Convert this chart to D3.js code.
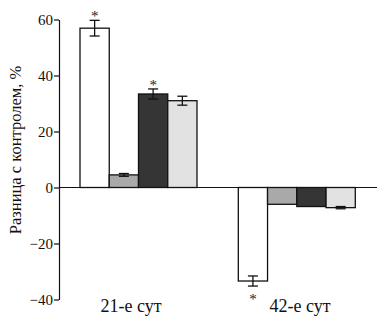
<!DOCTYPE html>
<html>
<head>
<meta charset="utf-8">
<script src="https://cdn.jsdelivr.net/npm/d3@7"></script>
<style>
  body { margin: 0; background: #fff; }
</style>
</head>
<body>
<div id="chart"></div>
<script>
// Data
const groups = ["21-е сут", "42-е сут"];
const series = ["s1", "s2", "s3", "s4"];
const values21 = [56.9, 4.5, 33.4, 31.0];
const values42 = [-33.4, -6.0, -6.8, -7.2];
const errors21 = [2.8, 0.5, 1.8, 1.6];
const errors42 = [1.8, 0, 0, 0.4];
const stars21 = [true, false, true, false];
const stars42 = [true, false, false, false];
const yTicks = [-40, -20, 0, 20, 40, 60];

const colors = ["#ffffff", "#a9a9a9", "#353535", "#e2e2e2"];
const serif = "'Times New Roman', Times, 'Noto Serif', 'FreeSerif', 'Liberation Serif', 'DejaVu Serif', serif";

const width = 384, height = 326;
const margin = { top: 19.5, left: 59, right: 7, bottom: 24.5 };

const svg = d3.select("#chart").append("svg")
	.attr("width", width)
	.attr("height", height)
	.style("font-family", serif);

const y = d3.scaleLinear()
	.domain([-40, 60])
	.range([height - margin.bottom - 2, margin.top]);

// Group band positions
const x0 = d3.scaleBand()
	.domain(groups)
	.range([margin.left + 21, margin.left + 21 + 2 * 158.3])
	.paddingInner(0);
const x1 = d3.scaleBand()
	.domain(series)
	.range([0, 117]);

const rows = [];
groups.forEach((g, gi) => {
	const vals = gi === 0 ? values21 : values42;
	const errs = gi === 0 ? errors21 : errors42;
	const stars = gi === 0 ? stars21 : stars42;
	series.forEach((s, si) => {
		rows.push({ group: g, series: s, i: si, value: vals[si], err: errs[si], star: stars[si] });
	});
});

// Zero line
svg.append("line")
	.attr("x1", margin.left)
	.attr("x2", width - margin.right)
	.attr("y1", y(0))
	.attr("y2", y(0))
	.attr("stroke", "#111")
	.attr("stroke-width", 1.2);

// Bars
svg.append("g")
	.selectAll("rect")
	.data(rows)
	.join("rect")
	.attr("x", (d) => x0(d.group) + x1(d.series))
	.attr("width", x1.bandwidth())
	.attr("y", (d) => y(Math.max(0, d.value)))
	.attr("height", (d) => Math.abs(y(d.value) - y(0)))
	.attr("fill", (d) => colors[d.i])
	.attr("stroke", "#111")
	.attr("stroke-width", 1.3);

// Error bars
const eb = svg.append("g").attr("stroke", "#111").attr("stroke-width", 1.3);
rows.filter((d) => d.err > 0).forEach((d) => {
	const cx = x0(d.group) + x1(d.series) + x1.bandwidth() / 2;
	const lo = y(d.value - d.err), hi = y(d.value + d.err);
	eb.append("line").attr("x1", cx).attr("x2", cx).attr("y1", lo).attr("y2", hi);
	eb.append("line").attr("x1", cx - 5).attr("x2", cx + 5).attr("y1", lo).attr("y2", lo);
	eb.append("line").attr("x1", cx - 5).attr("x2", cx + 5).attr("y1", hi).attr("y2", hi);
});

// Significance stars
svg.append("g")
	.selectAll("text")
	.data(rows.filter((d) => d.star))
	.join("text")
	.attr("x", (d) => x0(d.group) + x1(d.series) + x1.bandwidth() / 2)
	.attr("y", (d) => d.value > 0 ? y(d.value + d.err) + 1 : y(d.value - d.err) + 18)
	.attr("text-anchor", "middle")
	.attr("fill", "#222")
	.style("font-family", serif)
	.style("font-size", "15px")
	.text("*");

// Y axis
const yAxis = svg.append("g")
	.attr("transform", `translate(${margin.left},0)`)
	.call(d3.axisLeft(y).tickValues(yTicks).tickSize(5).tickSizeOuter(0))
	.attr("font-family", null)
	.attr("font-size", null);
yAxis.select(".domain").attr("stroke", "#111").attr("stroke-width", 1.2);
yAxis.selectAll(".tick line").attr("stroke", "#111").attr("stroke-width", 1.2);
yAxis.selectAll(".tick text")
	.attr("x", -6)
	.attr("fill", "#111")
	.style("font-family", serif)
	.style("font-size", "15px");

// Group labels
svg.append("g")
	.selectAll("text")
	.data(groups)
	.join("text")
	.attr("x", (d, i) => i === 0 ? 131 : 300)
	.attr("y", 311.5)
	.attr("text-anchor", "middle")
	.attr("fill", "#111")
	.style("font-family", serif)
	.style("font-size", "18px")
	.text((d) => d);

// Y axis title
svg.append("text")
	.attr("transform", `translate(21, 150) rotate(-90)`)
	.attr("text-anchor", "middle")
	.attr("fill", "#111")
	.style("font-family", serif)
	.style("font-size", "16.5px")
	.text("Разница с контролем, %");
</script>
</body>
</html>
